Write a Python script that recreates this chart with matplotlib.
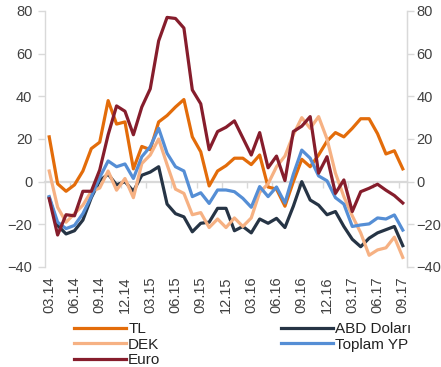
import numpy as np
import matplotlib
matplotlib.use('Agg')
import matplotlib.pyplot as plt

# monthly values, 03.14 .. 09.17
tl = [21, -1, -4.5, -1.5, 5, 15.5, 18.5, 38, 27, 28, 6, 16.5, 15, 28, 31, 35, 38.5, 21, 14, -2, 5,
      7.5, 11, 11, 8, 12.5, -2.5, -3.5, -11.5, 0, 10.5, 7, 12.5, 19, 23, 21, 25, 29.5, 29.5, 22.5, 13, 14.5, 6]
dek = [5, -12, -19, -15, -11, -4.5, -3, 5, -4, 1.5, -7.5, 8.5, 12.5, 20, 8, -3.5, -5.5, -15.5, -14.5, -21.5, -17.5,
       -21.5, -17, -21, -17, -5, -1, 7, 12, 22, 30, 25, 30.5, 20, 4, -7, -16, -24, -34.5, -32, -31, -26, -35.5]
euro = [-8, -25, -15.5, -16, -4.5, -4.5, 5.5, 22, 35.5, 33, 22, 35, 43.5, 66, 77, 76.5, 72, 43, 36.5, 15, 23.5,
        25.5, 28.5, 20.5, 12.5, 23, 6.5, 12, 0.5, 23.5, 26, 30.5, 4, 11.7, -5.5, 0.8, -14, -4.7, -3.1, -1.2, -4, -6.5, -10]
abd = [-7.5, -20.5, -24.5, -23, -18, -7.5, 0.5, 3.5, -1.5, 0, -4.5, 3, 4.5, 7, -10.5, -15, -16.5, -23.5, -19.5, -19, -12.5,
       -12.5, -23, -21, -24, -17.5, -19.5, -17.2, -21.5, -11.5, 0, -8.6, -11, -15.5, -14, -21, -27, -30.5, -26.5, -24, -22.5, -21, -30]
toplam = [-7, -19, -22, -20.5, -15, -7, 2, 9.7, 7, 8.3, 1.5, 11.7, 16.4, 25, 13.3, 7, 5, -7, -5.2, -10.2, -3.9,
          -3.9, -4.7, -7.8, -12, -2.3, -7, -2.5, -10, 3.5, 14.8, 11, 2.7, 0.4, -7.5, -10.5, -21, -20.3, -19.8, -17, -17.5, -15.6, -22.7]

tick_labels = ['03.14', '06.14', '09.14', '12.14', '03.15', '06.15', '09.15', '12.15',
               '03.16', '06.16', '09.16', '12.16', '03.17', '06.17', '09.17']

plt.rcParams['font.family'] = ['Liberation Sans', 'DejaVu Sans']

text_color = '#404040'
grid_color = '#d9d9d9'

fig = plt.figure(figsize=(4.41, 3.67), dpi=100)
ax = fig.add_axes([45 / 441, 1 - 267 / 367, (407 - 45) / 441, (267 - 11) / 367])

x = np.arange(len(tl))
lw = 2.3
l_tl, = ax.plot(x, tl, color='#e36c0a', lw=lw, label='TL')
l_abd, = ax.plot(x, abd, color='#263445', lw=lw, label='ABD Doları')
l_dek, = ax.plot(x, dek, color='#f6b183', lw=lw, label='DEK')
l_top, = ax.plot(x, toplam, color='#558ed5', lw=lw, label='Toplam YP')
l_eur, = ax.plot(x, euro, color='#861d2c', lw=lw, label='Euro')

ax.set_xlim(-0.5, len(tl) - 0.5)
ax.set_ylim(-40, 80)
ax.set_yticks(np.arange(-40, 81, 20))
ax.set_xticks(x[::3])
ax.set_xticklabels(tick_labels, rotation=90)

ax.tick_params(axis='x', length=0, pad=7, labelsize=10.5, labelcolor=text_color)
ax.tick_params(axis='y', direction='out', length=5, width=1, color=grid_color, pad=4,
               labelsize=10.5, labelcolor=text_color)

for side in ['top', 'bottom']:
    ax.spines[side].set_visible(False)
for side in ['left', 'right']:
    ax.spines[side].set_color(grid_color)
    ax.spines[side].set_linewidth(1)

# right hand scale, same as the left one
ax_r = ax.twinx()
ax_r.set_ylim(ax.get_ylim())
ax_r.set_yticks(np.arange(-40, 81, 20))
ax_r.tick_params(axis='y', direction='out', length=5, width=1, color=grid_color, pad=2,
                 labelsize=10.5, labelcolor=text_color)
for side in ['top', 'bottom', 'left']:
    ax_r.spines[side].set_visible(False)
ax_r.spines['right'].set_color(grid_color)

# zero line with its own ticks
zero = ax.secondary_xaxis(40 / 120)
zero.spines['bottom'].set_color(grid_color)
zero.spines['bottom'].set_linewidth(1.6)
zero.set_xticks(np.arange(2.5, len(tl) - 1, 3))
zero.tick_params(direction='out', length=4, width=1, color=grid_color, labelbottom=False)

handles = [l_tl, l_dek, l_eur, l_abd, l_top]
fig.legend(handles=handles, labels=[h.get_label() for h in handles], ncol=2,
           loc='upper left', bbox_to_anchor=(74 / 441, 1 - 322 / 367), frameon=False,
           fontsize=11, handlelength=3.4, handletextpad=0.15, columnspacing=7.9,
           labelspacing=0.1, borderpad=0, borderaxespad=0, labelcolor='#222222')

fig.savefig('out.png', dpi=100)
